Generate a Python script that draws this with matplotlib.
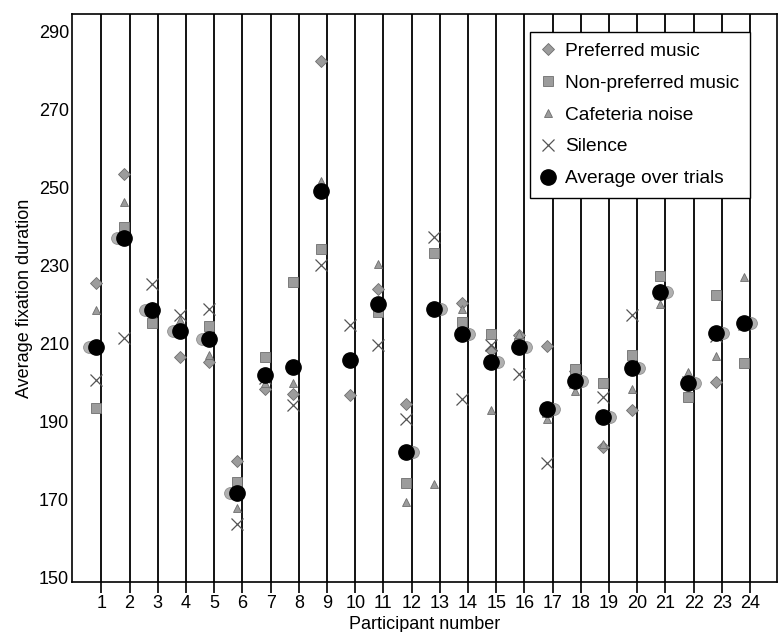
import numpy as np
import matplotlib
matplotlib.use("Agg")
import matplotlib.pyplot as plt

plt.rcParams['font.family'] = ['Liberation Sans', 'DejaVu Sans']

# Values
participants = list(range(1, 25))
preferred = [225.4, 253.6, 219.0, 206.5, 205.2, 179.8, 198.2, 197.1, 282.6, 196.7, 224.0, 194.5,
             219.0, 220.4, 208.4, 212.2, 209.3, 202.8, 183.4, 193.0, 223.6, 200.6, 200.1, 215.0]
non_preferred = [193.3, 239.8, 215.2, 213.5, 214.4, 174.4, 206.5, 225.7, 234.2, 206.0, 218.0, 174.2,
                 233.3, 215.5, 212.5, 210.0, 192.4, 203.5, 199.7, 206.9, 227.4, 196.2, 222.3, 205.0]
cafeteria = [218.5, 246.2, 219.0, 216.0, 206.9, 167.6, 199.7, 199.7, 251.8, 206.0, 230.4, 169.3,
             173.8, 218.9, 192.8, 212.5, 190.7, 197.8, 184.1, 198.4, 220.2, 202.6, 206.7, 227.0]
silence = [200.5, 211.5, 225.3, 217.4, 218.9, 163.6, 201.0, 194.1, 230.0, 214.6, 209.7, 190.6,
           237.3, 195.8, 209.5, 202.1, 179.3, 200.0, 196.1, 217.2, 223.0, 200.0, 212.0, 215.0]
average = [209.0, 237.1, 218.6, 213.2, 211.1, 171.6, 201.8, 203.9, 249.1, 205.8, 220.0, 182.1,
           218.9, 212.3, 205.2, 209.1, 193.1, 200.3, 191.0, 203.7, 223.2, 199.9, 212.6, 215.2]
# side of the grey print "ghost" next to each average dot (-1 left, 0 none, 1 right)
ghost_side = [-1, -1, -1, -1, -1, -1, 0, 0, 0, 0, 0, 1,
              1, 1, 1, 1, 1, 1, 1, 1, 1, 1, 1, 1]

x = np.array(participants) - 0.2
grey = '#9c9c9c'
edge = '#6e6e6e'

fig, ax = plt.subplots(figsize=(7.8, 6.32), dpi=100)
fig.subplots_adjust(left=0.092, right=0.996, bottom=0.079, top=0.978)

# vertical separators at every participant
for p in participants:
    ax.axvline(p, color='black', lw=1.3, zorder=1)

# grey ghost circles behind the averages
gx = x + 0.25 * np.array(ghost_side)
mask = np.array(ghost_side) != 0
ax.plot(gx[mask], np.array(average)[mask], 'o', ms=8.5, color='#b0b0b0',
        markeredgecolor='#909090', mew=0.6, zorder=2)

ax.plot(x, preferred, 'D', ms=6.5, color=grey, markeredgecolor=edge, mew=0.6,
        label='Preferred music', zorder=3)
ax.plot(x, non_preferred, 's', ms=7, color=grey, markeredgecolor=edge, mew=0.6,
        label='Non-preferred music', zorder=3)
ax.plot(x, cafeteria, '^', ms=5.5, color=grey, markeredgecolor=edge, mew=0.6,
        label='Cafeteria noise', zorder=3)
ax.plot(x, silence, 'x', ms=9, color='#555555', mew=0.9,
        label='Silence', zorder=3)
ax.plot(x, average, 'o', ms=11, color='black', label='Average over trials', zorder=4)

ax.set_xlim(-0.05, 24.95)
ax.set_ylim(148.7, 294.6)
ax.set_xticks(participants)
ax.set_xticklabels([str(p) for p in participants], fontsize=13)
ax.set_yticks(range(150, 291, 20))
ax.set_yticklabels([str(v) for v in range(150, 291, 20)], fontsize=13)
ax.tick_params(axis='x', direction='out', length=8, width=1.2, pad=1)
ax.tick_params(axis='y', length=0, pad=2)
for s in ax.spines.values():
    s.set_linewidth(1.2)

ax.set_xlabel('Participant number', fontsize=13, labelpad=3)
ax.set_ylabel('Average fixation duration', fontsize=13, labelpad=4)

leg = ax.legend(loc='upper right', bbox_to_anchor=(0.962, 0.968), borderaxespad=0,
                fontsize=13.8, frameon=True, fancybox=False, edgecolor='black',
                handlelength=0.8, handletextpad=0.5, labelspacing=0.75, borderpad=0.55,
                framealpha=1)
leg.get_frame().set_linewidth(1.0)

plt.savefig('out.png', dpi=100)
